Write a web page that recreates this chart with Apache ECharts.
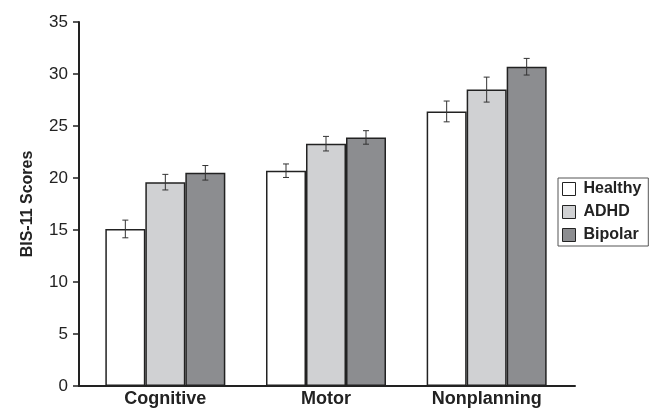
<!DOCTYPE html>
<html>
<head>
<meta charset="utf-8">
<script src="https://cdn.jsdelivr.net/npm/echarts@6/dist/echarts.min.js"></script>
<style>
  html, body { margin: 0; padding: 0; background: #fff; }
  #chart { width: 651px; height: 409px; }
</style>
</head>
<body>
<div id="chart"></div>
<script>
const categories = ['Cognitive', 'Motor', 'Nonplanning'];
const groups = ['Healthy', 'ADHD', 'Bipolar'];
const healthy = [15.1, 20.7, 26.4];
const adhd = [19.6, 23.3, 28.5];
const bipolar = [20.5, 23.9, 30.7];
const healthyErr = [0.85, 0.65, 1.0];
const adhdErr = [0.75, 0.7, 1.2];
const bipolarErr = [0.7, 0.65, 0.8];
const yTicks = [0, 5, 10, 15, 20, 25, 30, 35];

const colors = ['#ffffff', '#d0d1d3', '#8c8d90'];
const barWidth = 40;
const font = 'Liberation Sans, Arial, sans-serif';

const chart = echarts.init(document.getElementById('chart'), null, { renderer: 'canvas' });

const values = [healthy, adhd, bipolar];
const errors = [healthyErr, adhdErr, bipolarErr];

const barSeries = groups.map((name, i) => ({
  name: name,
  type: 'bar',
  xAxisIndex: 0,
  yAxisIndex: 0,
  barWidth: barWidth,
  barGap: '0%',
  data: values[i],
  itemStyle: { color: colors[i], borderColor: '#222', borderWidth: 1.5 },
  emphasis: { disabled: true },
  z: 2
}));

// error bars drawn over each bar
const errSeries = groups.map((name, i) => ({
  type: 'custom',
  xAxisIndex: 0,
  yAxisIndex: 0,
  z: 5,
  silent: true,
  data: values[i].map((v, j) => [j, v, errors[i][j]]),
  renderItem: (params, api) => {
    const c = api.coord([api.value(0), api.value(1)]);
    const hi = api.coord([api.value(0), api.value(1) + api.value(2)]);
    const lo = api.coord([api.value(0), api.value(1) - api.value(2)]);
    const x = c[0] + (i - 1) * barWidth;
    const cap = 3;
    const style = { stroke: '#333', lineWidth: 1 };
    return {
      type: 'group',
      children: [
        { type: 'line', shape: { x1: x, y1: hi[1], x2: x, y2: lo[1] }, style },
        { type: 'line', shape: { x1: x - cap, y1: hi[1], x2: x + cap, y2: hi[1] }, style },
        { type: 'line', shape: { x1: x - cap, y1: lo[1], x2: x + cap, y2: lo[1] }, style }
      ]
    };
  }
}));

const option = {
  animation: false,
  backgroundColor: '#fff',
  grid: [
    { left: 85, right: 84, top: 22, bottom: 23 },
    { left: 79, right: 76, top: 22, bottom: 23 }
  ],
  xAxis: [
    {
      type: 'category',
      gridIndex: 0,
      data: categories,
      axisLine: { show: false },
      axisTick: { show: false },
      axisLabel: {
        color: '#222',
        fontFamily: font,
        fontWeight: 'bold',
        fontSize: 18,
        margin: 4
      }
    },
    {
      type: 'value',
      gridIndex: 1,
      min: 0,
      max: 1,
      axisLine: { show: true, onZero: false, lineStyle: { color: '#222', width: 2 } },
      axisTick: { show: false },
      axisLabel: { show: false },
      splitLine: { show: false }
    }
  ],
  yAxis: [
    {
      type: 'value',
      gridIndex: 0,
      min: 0,
      max: 35,
      interval: 5,
      show: false
    },
    {
      type: 'value',
      gridIndex: 1,
      min: yTicks[0],
      max: yTicks[yTicks.length - 1],
      interval: 5,
      name: 'BIS-11 Scores',
      nameLocation: 'middle',
      nameGap: 43,
      nameTextStyle: { color: '#222', fontFamily: font, fontWeight: 'bold', fontSize: 16 },
      axisLine: { show: true, lineStyle: { color: '#222', width: 2 } },
      axisTick: { show: true, length: 6, lineStyle: { color: '#222', width: 1.5 } },
      axisLabel: { color: '#222', fontFamily: font, fontSize: 17, margin: 11 },
      splitLine: { show: false }
    }
  ],
  legend: {
    orient: 'vertical',
    left: 558,
    top: 178,
    data: groups,
    icon: 'rect',
    itemWidth: 13,
    itemHeight: 13,
    itemGap: 7,
    padding: [3, 7, 3, 4],
    borderColor: '#555',
    borderWidth: 1,
    selectedMode: false,
    textStyle: {
      color: '#222', fontFamily: font, fontWeight: 'bold', fontSize: 16,
      lineHeight: 16, padding: [0, 0, 0, 3]
    },
    itemStyle: { borderColor: '#222', borderWidth: 1 }
  },
  series: barSeries.concat(errSeries)
};

chart.setOption(option);
</script>
</body>
</html>
